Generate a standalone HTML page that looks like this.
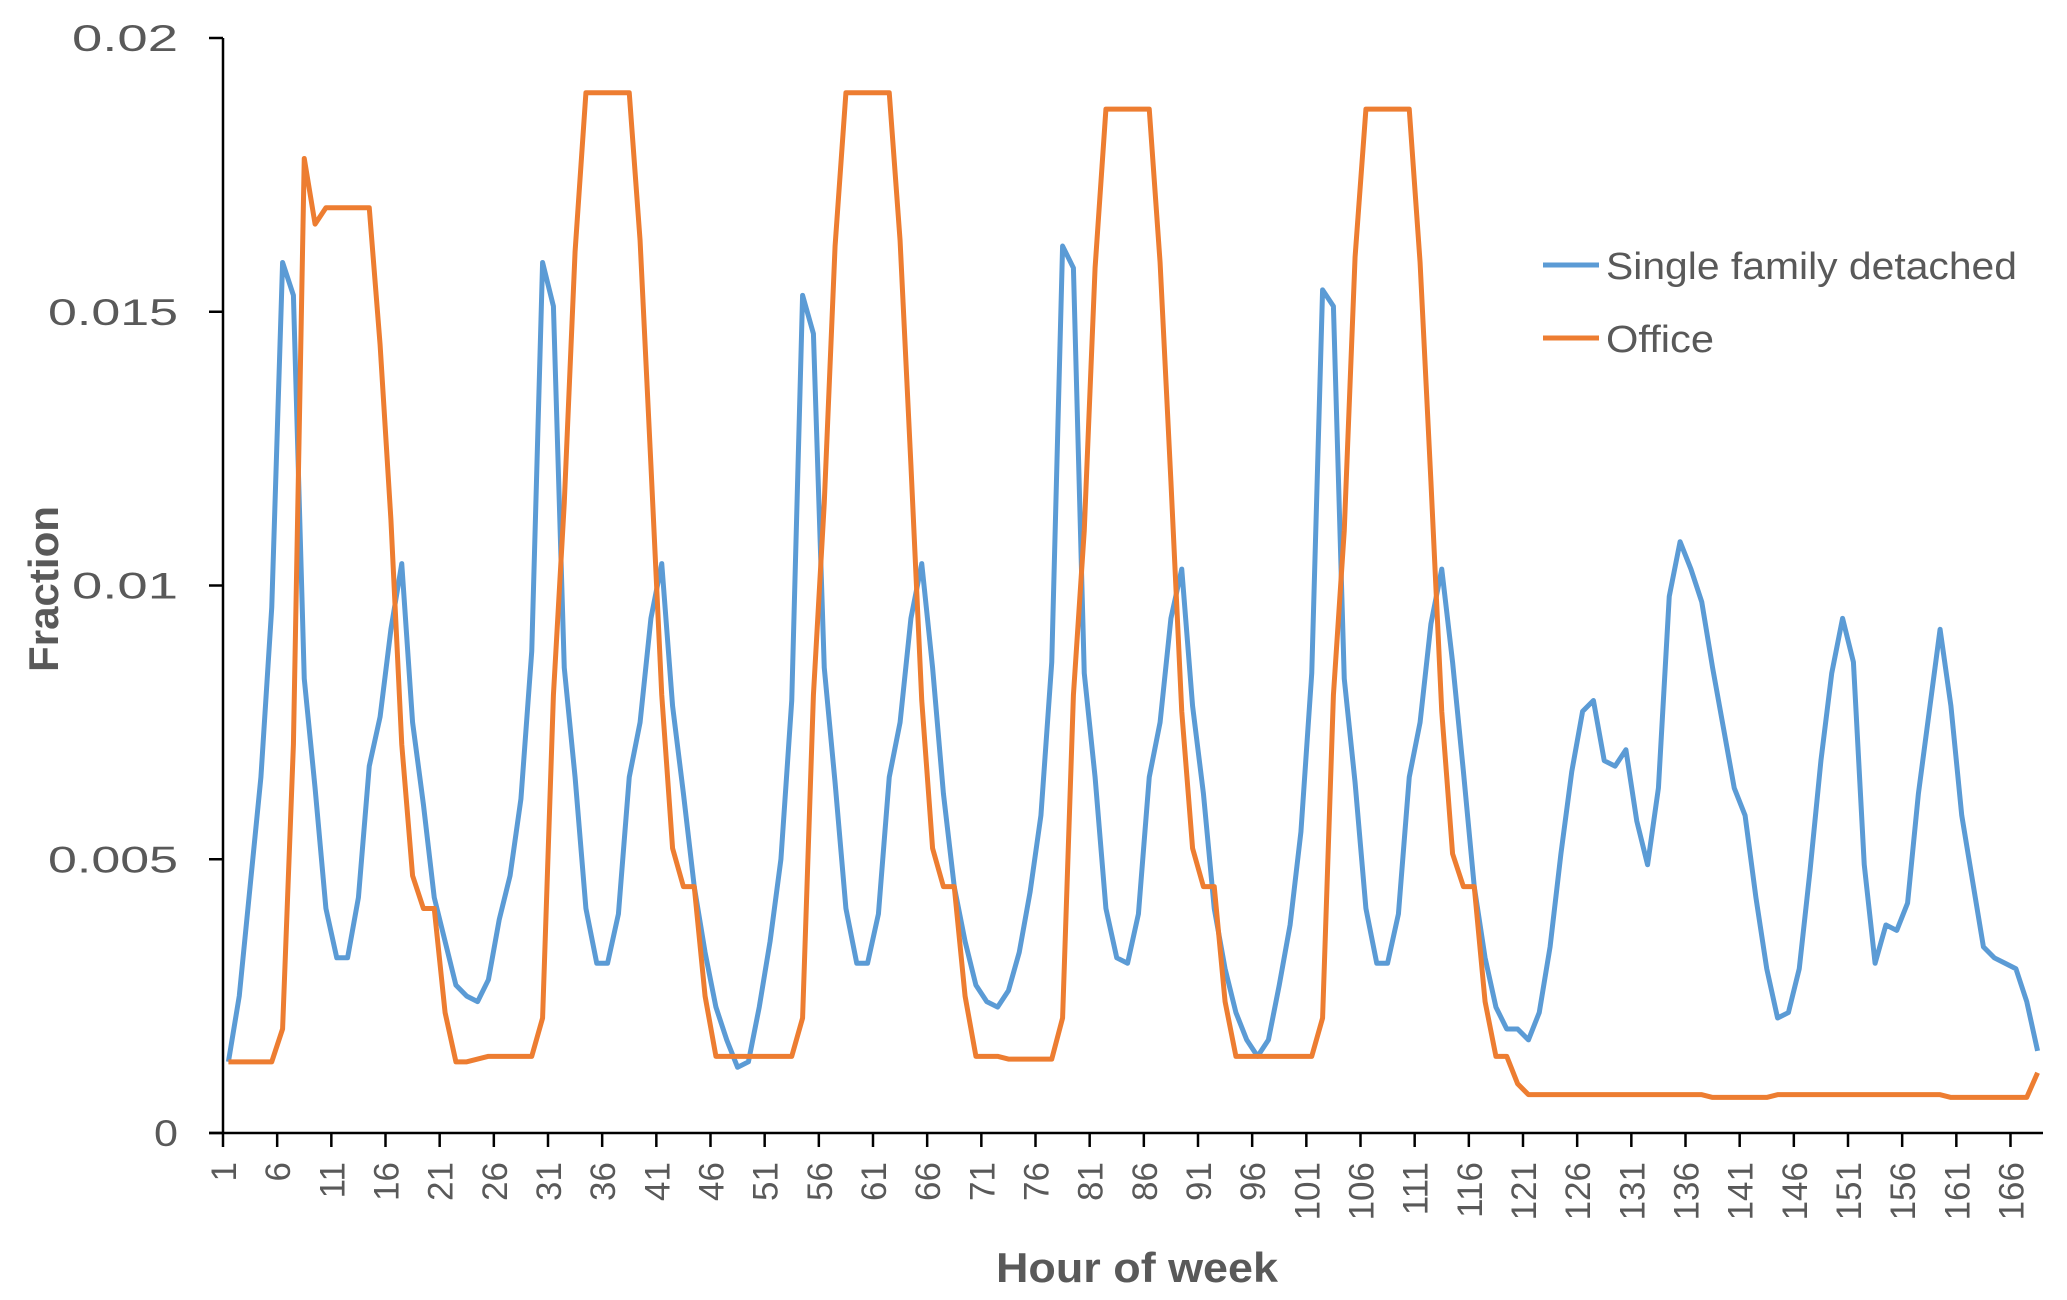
<!DOCTYPE html>
<html><head><meta charset="utf-8"><style>
html,body{margin:0;padding:0;background:#fff;}
svg{display:block;font-family:"Liberation Sans",sans-serif;}
</style></head><body>
<svg id="chart" width="2067" height="1300" viewBox="0 0 2067 1300">
<g id="axes"></g>
<g id="series"></g>
<text x="0" y="0" transform="translate(58,589) rotate(-90)" text-anchor="middle" font-size="42" font-weight="bold" fill="#595959" textLength="166" lengthAdjust="spacingAndGlyphs">Fraction</text>
<text x="1137" y="1282" text-anchor="middle" font-size="42" font-weight="bold" fill="#595959" textLength="282" lengthAdjust="spacingAndGlyphs">Hour of week</text>
<g>
<g>
<line x1="1543" y1="265" x2="1599" y2="265" stroke="#5B9BD5" stroke-width="5"/>
<text x="1606" y="279" font-size="38" fill="#595959" textLength="411" lengthAdjust="spacingAndGlyphs">Single family detached</text>
</g>
<g>
<line x1="1543" y1="338" x2="1599" y2="338" stroke="#ED7D31" stroke-width="5"/>
<text x="1606" y="352" font-size="38" fill="#595959" textLength="108" lengthAdjust="spacingAndGlyphs">Office</text>
</g>
</g>
</svg>
<script>
const yTicks = [0, 0.005, 0.01, 0.015, 0.02];
const yTickLabels = ["0", "0.005", "0.01", "0.015", "0.02"];
const xTickHours = [1,6,11,16,21,26,31,36,41,46,51,56,61,66,71,76,81,86,91,96,101,106,111,116,121,126,131,136,141,146,151,156,161,166];
const singleFamily = [
0.0013,0.0025,0.0045,0.0065,0.0096,0.0159,0.0153,0.0083,0.0063,0.0041,0.0032,0.0032,0.0043,0.0067,0.0076,0.0092,0.0104,0.0075,0.0060,0.0043,0.0035,0.0027,0.0025,0.0024,
0.0028,0.0039,0.0047,0.0061,0.0088,0.0159,0.0151,0.0085,0.0065,0.0041,0.0031,0.0031,0.0040,0.0065,0.0075,0.0094,0.0104,0.0078,0.0062,0.0045,0.0033,0.0023,0.0017,0.0012,
0.0013,0.0023,0.0035,0.0050,0.0079,0.0153,0.0146,0.0085,0.0064,0.0041,0.0031,0.0031,0.0040,0.0065,0.0075,0.0094,0.0104,0.0085,0.0062,0.0045,0.0035,0.0027,0.0024,0.0023,
0.0026,0.0033,0.0044,0.0058,0.0086,0.0162,0.0158,0.0084,0.0065,0.0041,0.0032,0.0031,0.0040,0.0065,0.0075,0.0094,0.0103,0.0078,0.0062,0.0041,0.0030,0.0022,0.0017,0.0014,
0.0017,0.0027,0.0038,0.0055,0.0084,0.0154,0.0151,0.0083,0.0064,0.0041,0.0031,0.0031,0.0040,0.0065,0.0075,0.0093,0.0103,
0.0086,0.0066,0.0045,0.0032,0.0023,0.0019,0.0019,0.0017,0.0022,0.0034,0.0051,0.0066,0.0077,0.0079,0.0068,0.0067,0.0070,0.0057,0.0049,0.0063,0.0098,0.0108,0.0103,0.0097,0.0085,0.0074,0.0063,0.0058,0.0043,0.0030,0.0021,0.0022,0.0030,0.0048,0.0068,0.0084,0.0094,0.0086,0.0049,0.0031,0.0038,0.0037,0.0042,0.0062,0.0077,0.0092,0.0078,0.0058,0.0046,0.0034,0.0032,0.0031,0.0030,0.0024,0.0015
];
const office = [
0.0013,0.0013,0.0013,0.0013,0.0013,0.0019,0.0071,0.0178,0.0166,0.0169,0.0169,0.0169,0.0169,0.0169,0.0144,0.0112,0.0071,0.0047,0.0041,0.0041,0.0022,0.0013,0.0013,0.00135,0.0014,0.0014,0.0014,0.0014,0.0014,
0.0021,0.0080,0.0115,0.0161,0.0190,0.0190,0.0190,0.0190,0.0190,0.0163,0.0122,0.0080,0.0052,0.0045,0.0045,0.0025,0.0014,0.0014,0.0014,0.0014,0.0014,0.0014,0.0014,0.0014,
0.0021,0.0080,0.0115,0.0162,0.0190,0.0190,0.0190,0.0190,0.0190,0.0163,0.0122,0.0079,0.0052,0.0045,0.0045,0.0025,0.0014,0.0014,0.0014,0.00135,0.00135,0.00135,0.00135,0.00135,
0.0021,0.0080,0.0110,0.0158,0.0187,0.0187,0.0187,0.0187,0.0187,0.0159,0.0119,0.0077,0.0052,0.0045,0.0045,0.0024,0.0014,0.0014,0.0014,0.0014,0.0014,0.0014,0.0014,0.0014,
0.0021,0.0080,0.0110,0.0160,0.0187,0.0187,0.0187,0.0187,0.0187,0.0159,0.0119,0.0077,0.0051,0.0045,0.0045,0.0024,
0.0014,0.0014,0.0009,
0.0007,0.0007,0.0007,0.0007,0.0007,0.0007,0.0007,0.0007,0.0007,0.0007,0.0007,0.0007,0.0007,0.0007,0.0007,0.0007,0.0007,
0.00065,0.00065,0.00065,0.00065,0.00065,0.00065,
0.0007,0.0007,0.0007,0.0007,0.0007,0.0007,0.0007,0.0007,0.0007,0.0007,0.0007,0.0007,0.0007,0.0007,0.0007,0.0007,
0.00065,0.00065,0.00065,0.00065,0.00065,0.00065,0.00065,0.00065,0.0011
];
const NS = "http://www.w3.org/2000/svg";
const X0 = 223, X1 = 2043, Y0 = 1133, Y1 = 38, YMAX = 0.02;
const nCat = 168;
const cw = (X1 - X0) / nCat;
function xCat(h){ return X0 + (h - 0.5) * cw; }
function xTick(h){ return X0 + (h - 1) * cw; }
function yVal(v){ return Y0 - v / YMAX * (Y0 - Y1); }
const axes = document.getElementById('axes');
function mk(tag, attrs, parent){ const e = document.createElementNS(NS, tag); for (const k in attrs) e.setAttribute(k, attrs[k]); parent.appendChild(e); return e; }
function labelWidth(s){ let w = 0; for (const c of s) w += (c === '.') ? 34 : 24; return w; }

const yAxis = mk('line', {x1:X0, y1:Y1, x2:X0, y2:Y0, stroke:'#000', 'stroke-width':2.5}, axes);


const xAxis = mk('line', {x1:X0-14, y1:Y0, x2:X1, y2:Y0, stroke:'#000', 'stroke-width':2.5}, axes);



yTicks.forEach((v, i) => {
  const y = yVal(v);
  const t = mk('line', {x1:X0-14, y1:y, x2:X0, y2:y, stroke:'#000', 'stroke-width':2.5}, axes);
  
  
  const lb = mk('text', {x:178, y:y+13, 'text-anchor':'end', 'font-size':37, fill:'#595959', textLength:labelWidth(yTickLabels[i]), lengthAdjust:'spacingAndGlyphs'}, axes);
  lb.textContent = yTickLabels[i];
  
  
});
xTickHours.forEach(h => {
  const x = xTick(h);
  const t = mk('line', {x1:x, y1:Y0, x2:x, y2:Y0+14, stroke:'#000', 'stroke-width':2.5}, axes);
  
  
  const lb = mk('text', {x:0, y:0, transform:'translate('+(x+13)+','+(Y0+29)+') rotate(-90)', 'text-anchor':'end', 'font-size':35, fill:'#595959'}, axes);
  lb.textContent = String(h);
  
  
});

const series = document.getElementById('series');
function drawLine(vals, color, name){
  const pts = vals.map((v, i) => xCat(i + 1).toFixed(2) + ',' + yVal(v).toFixed(2)).join(' ');
  const pl = mk('polyline', {points:pts, fill:'none', stroke:color, 'stroke-width':5, 'stroke-linejoin':'round'}, series);
  
  
}
drawLine(singleFamily, '#5B9BD5', 'single-family-detached-line');
drawLine(office, '#ED7D31', 'office-line');
</script>
</body></html>
